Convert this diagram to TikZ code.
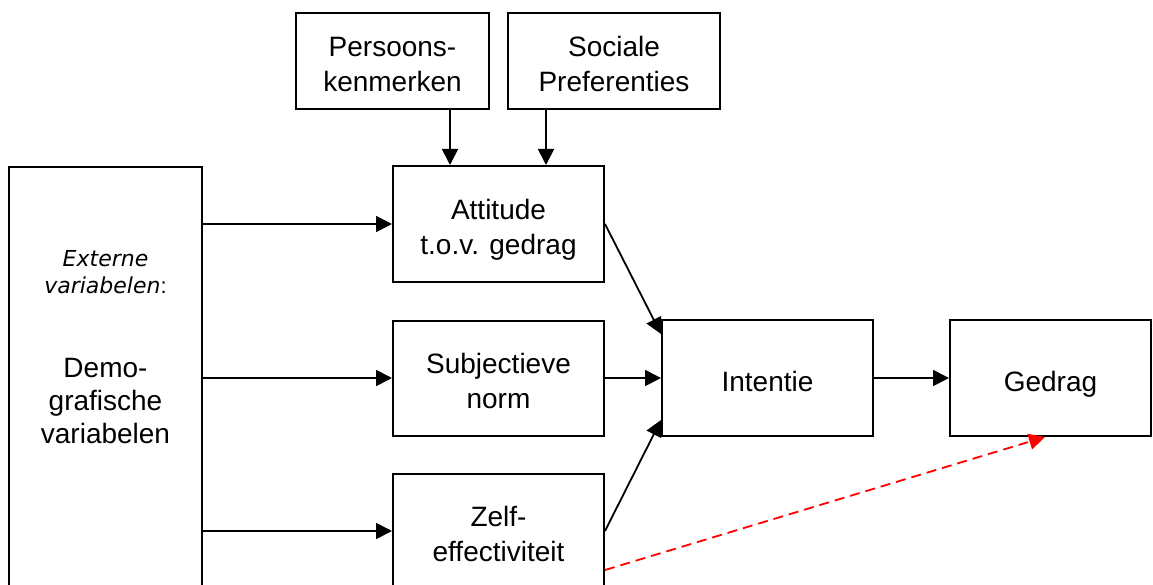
\documentclass[tikz,border=0pt]{standalone}
\usepackage{fontspec}
\setmainfont{Liberation Sans}
\newfontfamily\obliquefont{DejaVu Sans}
\usetikzlibrary{arrows.meta,calc}
\newcommand\tstr{\rule{0pt}{37pt}}
\tikzset{
  box/.style={draw=black, line width=2pt, inner sep=0pt, align=center,
    font=\fontsize{28}{35}\selectfont},
  arr/.style={draw=black, line width=1.8pt, -{Triangle[length=16pt,width=16pt]}},
  redarr/.style={draw=red, line width=1.8pt, dash pattern=on 10pt off 6pt,
    -{Triangle[length=16pt,width=16pt]}},
  linetxt/.style={inner sep=0pt, anchor=base}
}
\begin{document}
\begin{tikzpicture}[x=1pt,y=-1pt]
\clip (0,0) rectangle (1153,585);
\fill[white] (0,0) rectangle (1153,585);
% boxes
\node[box, minimum width=193pt, minimum height=96pt] (pers) at (392.5,61) {\tstr Persoons-\\kenmerken\strut};
\node[box, minimum width=212pt, minimum height=96pt] (soc) at (614,61) {\tstr Sociale\\Preferenties\strut};
\node[box, minimum width=211pt, minimum height=116pt] (att) at (498.5,224) {\tstr Attitude\\t.o.v. gedrag\strut};
\node[box, minimum width=211pt, minimum height=115pt] (subj) at (498.5,378) {\tstr Subjectieve\\norm\strut};
\node[box, minimum width=211pt, minimum height=115pt] (zelf) at (498.5,531) {\tstr Zelf-\\effectiviteit\strut};
\node[box, minimum width=211pt, minimum height=116pt] (int) at (767.5,378) {\tstr Intentie\strut};
\node[box, minimum width=201pt, minimum height=116pt] (ged) at (1050.5,378) {\tstr Gedrag\strut};
\node[box, minimum width=193pt, minimum height=463pt] (ext) at (105.5,398.5) {};
% text of the left box
\node[linetxt, font=\fontsize{22}{27}\selectfont] (ext1) at (105.5,266) {{\obliquefont\itshape Externe}};
\node[linetxt, font=\fontsize{22}{27}\selectfont] (ext2) at (105.5,293) {{\obliquefont\itshape variabelen}:};
\node[linetxt, font=\fontsize{28}{33}\selectfont] (dem1) at (105.5,377) {Demo-};
\node[linetxt, font=\fontsize{28}{33}\selectfont] (dem2) at (105.5,410) {grafische};
\node[linetxt, font=\fontsize{28}{33}\selectfont] (dem3) at (105.5,443) {variabelen};
% coordinates
\coordinate (pa) at ($(att.north west)+(58,0)$);
\coordinate (sa) at ($(att.north west)+(154,0)$);
\coordinate (ia) at ($(int.west)+(0,-44)$);
\coordinate (iz) at ($(int.west)+(0,42)$);
\coordinate (zr) at ($(zelf.east)+(0,39)$);
\coordinate (gr) at ($(ged.south)+(-5.5,0)$);
% connectors
\draw[arr] (pers.south -| pa) -- (pa);
\draw[arr] (soc.south -| sa) -- (sa);
\draw[arr] (ext.east |- att.west) -- (att.west);
\draw[arr] (ext.east |- subj.west) -- (subj.west);
\draw[arr] (ext.east |- zelf.west) -- (zelf.west);
\draw[arr] (att.east) -- (ia);
\draw[arr] (subj.east) -- (int.west);
\draw[arr] (zelf.east) -- (iz);
\draw[arr] (int.east) -- (ged.west);
\draw[redarr] (zr) -- (gr);
\end{tikzpicture}
\end{document}
